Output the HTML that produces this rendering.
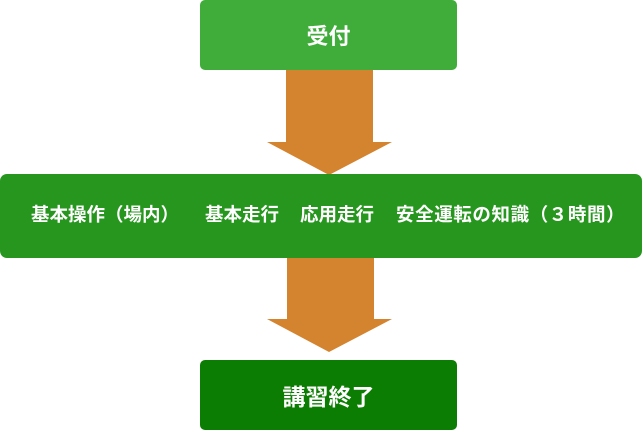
<!DOCTYPE html>
<html><head><meta charset="utf-8"><style>
body{margin:0;width:642px;height:431px;background:#fff;position:relative;overflow:hidden;font-family:"Liberation Sans","Noto Sans CJK JP",sans-serif;}
.b{position:absolute;color:#fff;font-weight:bold;display:flex;align-items:center;justify-content:center;border-radius:5px;}
.t{position:absolute;top:204px;color:#fff;font-weight:bold;font-size:18.5px;line-height:22px;white-space:nowrap;}
</style></head><body>
<svg width="642" height="431" style="position:absolute;left:0;top:0">
<polygon points="286,68 373,68 373,142 392,142 329,175 267,142 286,142" fill="#d4832e"/>
<polygon points="287,256 374,256 374,319 392,319 329,352 267,319 287,319" fill="#d4832e"/>
</svg>
<div class="b" style="left:200px;top:0;width:257px;height:70px;background:#40ad3b;font-size:22px;">受付</div>
<div class="b" style="left:0;top:174px;width:642px;height:84px;background:#27961f;border-radius:7px;"></div>
<div class="t" style="left:31px;">基本操作（場内）</div>
<div class="t" style="left:205px;">基本走行</div>
<div class="t" style="left:300px;">応用走行</div>
<div class="t" style="left:396px;letter-spacing:0.6px">安全運転の知識（３時間）</div>
<div class="b" style="left:200px;top:360px;width:257px;height:70px;background:#0c7d03;font-size:23px;">講習終了</div>
</body></html>
